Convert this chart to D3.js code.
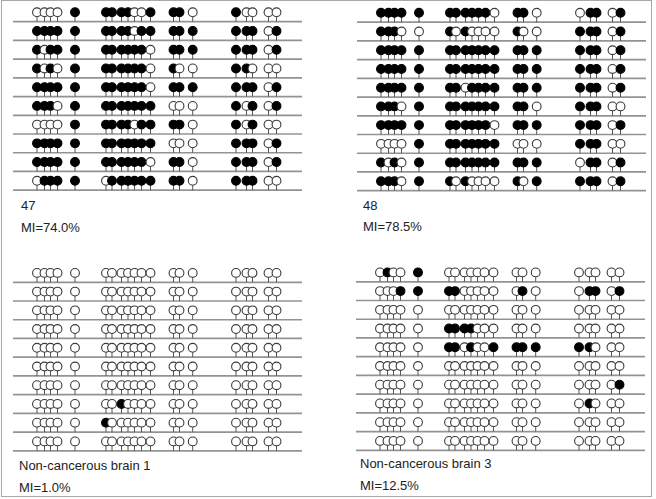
<!DOCTYPE html>
<html>
<head>
<meta charset="utf-8">
<script src="https://cdn.jsdelivr.net/npm/d3@7"></script>
<style>
    body { margin: 0; background: #fff; }
    svg { display: block; font-family: "Liberation Sans", Arial, sans-serif; }
</style>
</head>
<body>
<div id="chart"></div>
<script>

// relative CpG site positions along the amplicon (20 sites)
var sites = [0, 7.5, 13.5, 20.5, 38, 69, 75, 84.5, 91, 97.5, 104.5, 113.5, 136.5, 142.5, 155.7, 199, 209.5, 215.5, 231.5, 239.5];

// one string per clone, 1 = methylated CpG
var clones47 = [
    "00001" + "1111001" + "110" + "10000",
    "11111" + "1111011" + "111" + "11101",
    "10111" + "1111110" + "111" + "11101",
    "10101" + "1111110" + "100" + "11000",
    "11111" + "1111110" + "111" + "11101",
    "11101" + "1111111" + "000" + "10101",
    "00001" + "1111011" + "110" + "10100",
    "11111" + "1111111" + "000" + "11101",
    "11111" + "1111110" + "110" + "11101",
    "01111" + "0111111" + "110" + "11100"
];

var clones48 = [
    "11111" + "1111110" + "110" + "01101",
    "11100" + "1010000" + "100" + "11101",
    "11111" + "1111111" + "111" + "11101",
    "11111" + "1111111" + "111" + "11101",
    "11111" + "1101111" + "111" + "11101",
    "11101" + "1111111" + "110" + "11100",
    "11111" + "1111110" + "111" + "11101",
    "00001" + "1111111" + "000" + "11100",
    "10101" + "1111111" + "111" + "01101",
    "11101" + "1010000" + "101" + "11101"
];

var clonesBrain1 = [
    "00000" + "0000000" + "000" + "00000",
    "00000" + "0000000" + "000" + "00000",
    "00000" + "0000000" + "000" + "00000",
    "00000" + "0000000" + "000" + "00000",
    "00000" + "0000000" + "000" + "00000",
    "00000" + "0000000" + "000" + "00000",
    "00000" + "0000000" + "000" + "00000",
    "00000" + "0010000" + "000" + "00000",
    "00000" + "1000000" + "000" + "00000",
    "00000" + "0000000" + "000" + "00000"
];

var clonesBrain3 = [
    "01001" + "0000000" + "000" + "00000",
    "00011" + "1100000" + "010" + "01101",
    "00000" + "0000000" + "000" + "00000",
    "00000" + "1111000" + "000" + "00000",
    "00000" + "1101001" + "111" + "11000",
    "00000" + "0000000" + "000" + "00000",
    "00000" + "0000000" + "000" + "00001",
    "00000" + "0000000" + "000" + "01000",
    "00000" + "0000000" + "000" + "00000",
    "00000" + "0000000" + "000" + "00000"
];

var sampleNames = ["47", "48", "Non-cancerous brain 1", "Non-cancerous brain 3"];
var miLabels = ["MI=74.0%", "MI=78.5%", "MI=1.0%", "MI=12.5%"];
var sampleClones = [clones47, clones48, clonesBrain1, clonesBrain3];

var W = 656, H = 499;
var lineLen = 289,
    rowStep = 18.72,
    r = 4.4,
    stemLen = 5;

// where each panel's first clone line sits, and where its labels go
var layout = [
    { x: 13,  y: 21.7,  tx: 21,  ty: 210, ty2: 231.5 },
    { x: 357, y: 22.2,  tx: 363, ty: 210, ty2: 231 },
    { x: 13,  y: 282.3, tx: 19,  ty: 470, ty2: 492 },
    { x: 356, y: 281.8, tx: 360, ty: 468, ty2: 490 }
];

var svg = d3.select("#chart").append("svg")
    .attr("width", W)
    .attr("height", H);

svg.append("rect")
    .attr("x", 1.5).attr("y", 0.5)
    .attr("width", 650).attr("height", 496)
    .attr("fill", "none")
    .attr("stroke", "#a8a8a8");

var x = d3.scaleLinear()
    .domain([-24, lineLen - 24])
    .range([0, lineLen]);

var y = d3.scaleLinear()
    .domain([0, 9])
    .range([0, 9 * rowStep]);

sampleClones.forEach(function(clones, p) {
    var L = layout[p];
    var g = svg.append("g")
        .attr("transform", "translate(" + L.x + "," + L.y + ")");

    // clone baselines
    g.selectAll(".base")
        .data(clones)
        .enter().append("line")
        .attr("class", "base")
        .attr("x1", 0)
        .attr("x2", lineLen)
        .attr("y1", function(d, i) { return y(i); })
        .attr("y2", function(d, i) { return y(i); })
        .attr("stroke", "#939393")
        .attr("stroke-width", 1.7);

    var rows = g.selectAll(".clone")
        .data(clones)
        .enter().append("g")
        .attr("class", "clone")
        .attr("transform", function(d, i) { return "translate(0," + y(i) + ")"; });

    var cpg = rows.selectAll(".cpg")
        .data(function(d) {
            return d.split("").map(function(c, j) { return { pos: sites[j], m: c === "1" }; });
        })
        .enter().append("g")
        .attr("class", "cpg")
        .attr("transform", function(d) { return "translate(" + x(d.pos) + ",0)"; });

    cpg.append("line")
        .attr("y1", -stemLen - 0.5)
        .attr("y2", 0)
        .attr("stroke", "#555")
        .attr("stroke-width", 1);

    cpg.append("circle")
        .attr("cy", -stemLen - r)
        .attr("r", r)
        .attr("fill", function(d) { return d.m ? "#000" : "#fff"; })
        .attr("stroke", function(d) { return d.m ? "#000" : "#3a3a3a"; })
        .attr("stroke-width", 1.1);

    svg.append("text")
        .attr("x", L.tx)
        .attr("y", L.ty)
        .attr("font-size", 13)
        .attr("fill", "#222")
        .text(sampleNames[p]);

    svg.append("text")
        .attr("x", L.tx)
        .attr("y", L.ty2)
        .attr("font-size", 13)
        .attr("fill", "#222")
        .text(miLabels[p]);
});

</script>
</body>
</html>
